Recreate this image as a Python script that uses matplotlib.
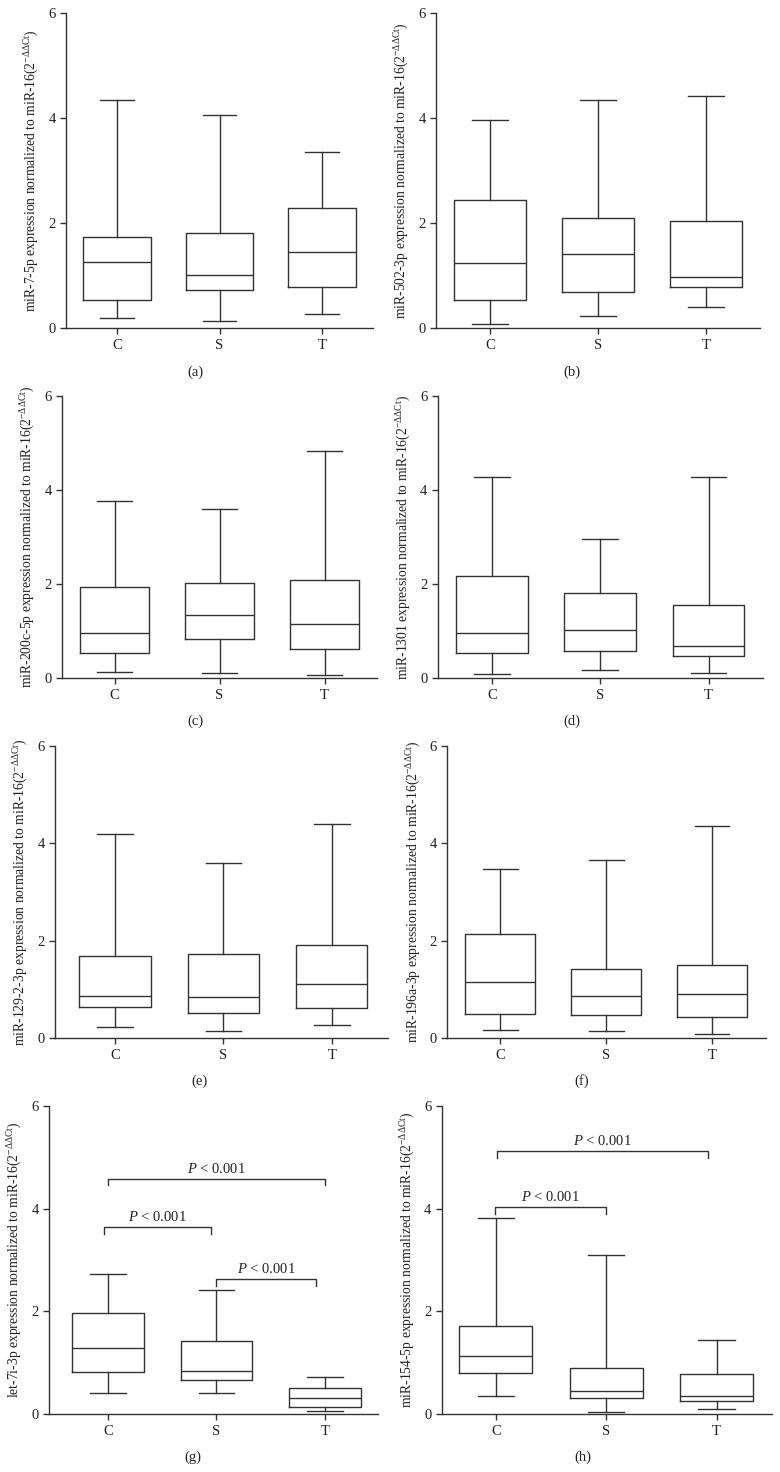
import matplotlib
matplotlib.use("Agg")
import matplotlib.pyplot as plt

plt.rcParams["font.family"] = ["Liberation Serif", "DejaVu Serif"]
plt.rcParams["mathtext.fontset"] = "custom"
plt.rcParams["mathtext.rm"] = "Liberation Serif"
plt.rcParams["mathtext.it"] = "Liberation Serif:italic"

INK = "#333333"

GROUPS = ["C", "S", "T"]
PANEL_TAGS = ["(a)", "(b)", "(c)", "(d)", "(e)", "(f)", "(g)", "(h)"]
MIRNAS = ["miR-7-5p", "miR-502-3p", "miR-200c-5p", "miR-1301",
          "miR-129-2-3p", "miR-196a-3p", "let-7i-3p", "miR-154-5p"]

# box statistics per panel, order C, S, T
WHISLO = [[0.19, 0.13, 0.27], [0.08, 0.23, 0.41], [0.13, 0.12, 0.06], [0.10, 0.17, 0.11],
          [0.23, 0.16, 0.28], [0.18, 0.16, 0.08], [0.41, 0.41, 0.07], [0.35, 0.04, 0.10]]
Q1 = [[0.53, 0.72, 0.78], [0.53, 0.70, 0.78], [0.54, 0.83, 0.62], [0.54, 0.59, 0.47],
      [0.64, 0.51, 0.62], [0.49, 0.47, 0.44], [0.83, 0.67, 0.14], [0.80, 0.32, 0.25]]
MED = [[1.26, 1.02, 1.45], [1.24, 1.41, 0.98], [0.97, 1.34, 1.15], [0.97, 1.03, 0.69],
       [0.87, 0.84, 1.12], [1.16, 0.87, 0.90], [1.28, 0.85, 0.31], [1.14, 0.45, 0.36]]
Q3 = [[1.73, 1.81, 2.30], [2.44, 2.11, 2.04], [1.93, 2.03, 2.08], [2.18, 1.82, 1.56],
      [1.68, 1.74, 1.92], [2.14, 1.43, 1.50], [1.96, 1.43, 0.52], [1.71, 0.90, 0.78]]
WHISHI = [[4.35, 4.06, 3.36], [3.97, 4.34, 4.42], [3.76, 3.60, 4.83], [4.27, 2.95, 4.27],
          [4.19, 3.59, 4.40], [3.48, 3.67, 4.35], [2.73, 2.42, 0.72], [3.81, 3.09, 1.44]]

# significance brackets: panel index -> (x from, x to, height, label)
BRACKETS = {
    6: [(1.0, 3.0, 4.58, "$P$ < 0.001"),
        (0.96, 1.95, 3.64, "$P$ < 0.001"),
        (2.0, 2.92, 2.63, "$P$ < 0.001")],
    7: [(1.01, 2.92, 5.12, "$P$ < 0.001"),
        (0.99, 2.0, 4.03, "$P$ < 0.001")],
}

W, H = 780, 1472
# axes boxes in pixels: left, right, top, bottom, xlim low, xlim high
LAYOUT = [
    (66, 373, 13.3, 328.3, 0.5, 3.5),
    (436, 760, 13.3, 328.3, 0.5, 3.5),
    (62, 377, 395.7, 678.3, 0.5, 3.5),
    (437.7, 762.7, 395.7, 678.3, 0.5, 3.5),
    (55, 388, 746, 1038.3, 0.445, 3.52),
    (447.3, 766, 746, 1038.3, 0.5, 3.51),
    (49, 378, 1105.7, 1414.3, 0.456, 3.49),
    (441.7, 771.7, 1105.7, 1414.3, 0.51, 3.5),
]
TAG_POS = [(195, 372), (572, 372), (195, 721), (572, 721),
           (199, 1081), (582, 1081), (193, 1457), (583, 1457)]


def draw_panel(fig, i):
    l, r, t, b, x0, x1 = LAYOUT[i]
    ax = fig.add_axes([l / W, 1 - b / H, (r - l) / W, (b - t) / H])
    stats = [dict(med=MED[i][k], q1=Q1[i][k], q3=Q3[i][k],
                  whislo=WHISLO[i][k], whishi=WHISHI[i][k], fliers=[])
             for k in range(len(GROUPS))]
    line = dict(color=INK, linewidth=1.0)
    ax.bxp(stats, positions=[1, 2, 3], widths=0.66, capwidths=0.33,
           showfliers=False, boxprops=line, whiskerprops=line,
           capprops=line, medianprops=line)
    for x_a, x_b, y, txt in BRACKETS.get(i, []):
        ax.plot([x_a, x_a, x_b, x_b], [y - 0.13, y, y, y - 0.13],
                color=INK, linewidth=1.0, clip_on=False)
        ax.text((x_a + x_b) / 2, y + 0.06, txt, ha="center", va="bottom",
                fontsize=10.5, color="#222222")
    ax.set_xlim(x0, x1)
    ax.set_ylim(0, 6)
    ax.set_yticks([0, 2, 4, 6])
    ax.set_xticks([1, 2, 3])
    ax.set_xticklabels(GROUPS)
    for s in ("top", "right"):
        ax.spines[s].set_visible(False)
    for s in ("left", "bottom"):
        ax.spines[s].set_color(INK)
        ax.spines[s].set_linewidth(1.0)
    ax.tick_params(direction="out", length=4.5, width=1.0, color=INK,
                   labelsize=10.5, labelcolor="#222222", pad=3)
    ax.set_ylabel(MIRNAS[i] + r" expression normalized to miR-16(2$^{-\Delta\Delta \mathrm{Ct}}$)",
                  fontsize=9.8, color="#222222", labelpad=5)
    tx, ty = TAG_POS[i]
    fig.text(tx / W, 1 - ty / H, PANEL_TAGS[i], ha="center", va="center",
             fontsize=10.5, color="#222222")


def main():
    fig = plt.figure(figsize=(W / 100, H / 100), dpi=100)
    for i in range(len(MIRNAS)):
        draw_panel(fig, i)
    fig.savefig("out.png", dpi=100, facecolor="white")


if __name__ == "__main__":
    main()
